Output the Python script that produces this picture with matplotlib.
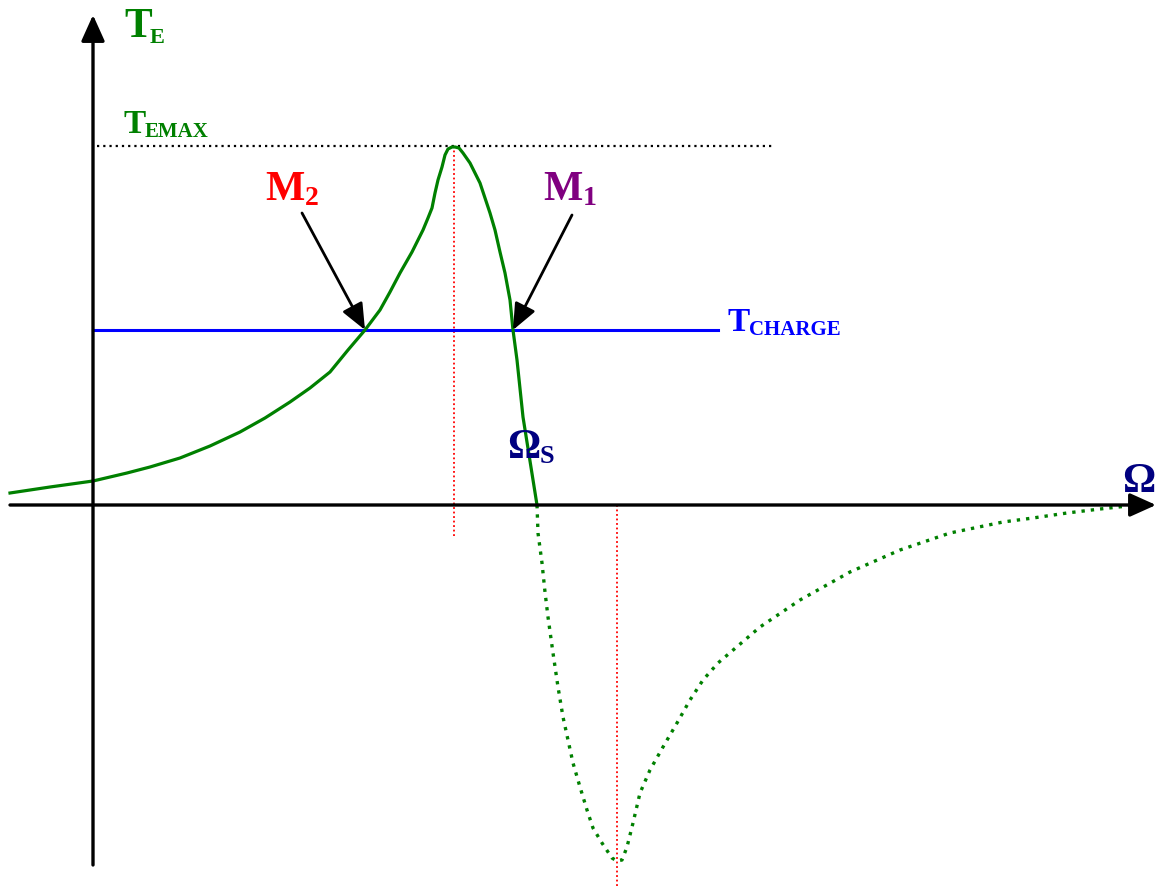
import matplotlib.pyplot as plt

# couple electromagnetique en fonction de la vitesse (unites arbitraires)
# partie moteur : du demarrage jusqu'au synchronisme
omega_mot = [-83, -43, 0, 34, 57, 87, 117, 147, 172, 197, 217, 237, 255, 272,
             287, 297, 307, 319, 330, 335, 339, 342, 345, 349, 352, 355, 359,
             362, 366, 370, 377, 382, 387, 392, 397, 402, 407, 412, 417, 420,
             424, 430, 444]
te_mot = [12, 18, 24, 32, 38, 47, 59, 73, 87, 103, 117, 133, 155, 175,
          195, 213, 232, 253, 275, 287, 297, 312, 325, 338, 350, 356, 358,
          358, 357, 352, 342, 332, 322, 307, 292, 275, 253, 232, 205, 175,
          145, 88, 0]

# partie generatrice : au-dela du synchronisme
omega_gen = [444, 445, 449, 452, 455, 460, 465, 470, 475, 480, 487, 494, 500,
             509, 519, 524, 529, 534, 540, 547, 557, 570, 584, 597, 610, 625,
             667, 707, 757, 807, 857, 910, 940, 974, 1007, 1044]
te_gen = [0, -28, -58, -87, -112, -148, -182, -212, -235, -258, -282, -305,
          -323, -338, -353, -356, -355, -342, -318, -288, -265, -242, -218,
          -195, -175, -158, -122, -95, -67, -45, -28, -17, -13, -8, -4, 0]

omega_s = 444
te_max = 359
t_charge = 175
omega_max = 361
omega_min = 524
pt_m2 = (272, 175)
pt_m1 = (420, 175)

green = '#008000'
serif = 'Liberation Serif'

fig = plt.figure(figsize=(11.56, 8.88), dpi=100)
ax = fig.add_axes([0, 0, 1, 1])
ax.set_xlim(-93, 1063)
ax.set_ylim(-383, 505)
ax.axis('off')

# axes avec fleches
arrow_axe = dict(arrowstyle='-|>,head_length=0.8,head_width=0.36', lw=2.4,
                 color='black', mutation_scale=20, shrinkA=0, shrinkB=0)
ax.annotate('', xy=(0, 490), xytext=(0, -360), arrowprops=arrow_axe)
ax.annotate('', xy=(1063, 0), xytext=(-83, 0), arrowprops=arrow_axe)

# couple maxi et reperes verticaux
ax.plot([4, 682], [te_max, te_max], color='black', lw=1.6,
        linestyle=(0, (1, 1.8)))
ax.plot([omega_max, omega_max], [te_max, -32], color='red', lw=1.3,
        linestyle=(0, (1, 1.5)))
ax.plot([omega_min, omega_min], [0, -383], color='red', lw=1.3,
        linestyle=(0, (1, 1.5)))

# couple de charge
ax.plot([0, 625], [t_charge, t_charge], color='#0000ff', lw=2.2)

# courbe du couple
ax.plot(omega_mot, te_mot, color=green, lw=2.3, solid_joinstyle='round')
ax.plot(omega_gen, te_gen, color=green, lw=2.4, linestyle=(0, (1, 1.8)))

# points de fonctionnement
arrow_pt = dict(arrowstyle='-|>,head_length=0.8,head_width=0.34', lw=2,
                color='black', mutation_scale=20, shrinkA=0, shrinkB=0)
ax.annotate('', xy=pt_m2, xytext=(209, 292), arrowprops=arrow_pt)
ax.annotate('', xy=pt_m1, xytext=(479, 290), arrowprops=arrow_pt)

def label(x, y, main, sub, color, size, subsize, dx, dy):
    ax.text(x, y, main, color=color, fontsize=size, fontweight='bold',
            family=serif, ha='left', va='baseline')
    ax.text(x + dx, y - dy, sub, color=color, fontsize=subsize,
            fontweight='bold', family=serif, ha='left', va='baseline')

label(31, 468, 'T', 'E', green, 30, 16, 26, 6)
label(30, 372, 'T', 'EMAX', green, 24, 15, 22, 4)
label(172, 305, 'M', '2', 'red', 30, 20, 40, 5)
label(450, 305, 'M', '1', '#800080', 30, 20, 40, 5)
label(634, 174, 'T', 'CHARGE', '#0000ff', 24, 15, 22, 4)
label(414, 47, 'Ω', 'S', '#000080', 30, 19, 33, 5)
ax.text(1029, 13, 'Ω', color='#000080', fontsize=30, fontweight='bold',
        family=serif, ha='left', va='baseline')

fig.savefig('out.png', dpi=100)
